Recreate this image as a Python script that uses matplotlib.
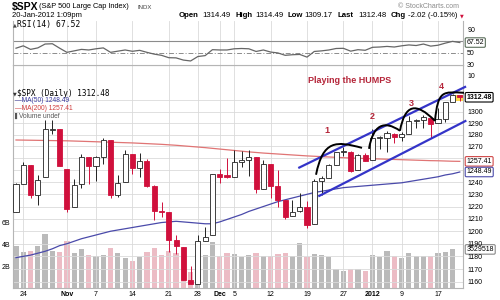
import numpy as np
import matplotlib
matplotlib.use('Agg')
import matplotlib.pyplot as plt
from matplotlib.path import Path
from matplotlib.patches import PathPatch
from matplotlib.ticker import FixedLocator, NullLocator, FuncFormatter

plt.rcParams['font.family'] = ['Liberation Sans', 'DejaVu Sans']

# $SPX daily bars, 21-Oct-2011 .. 20-Jan-2012
opens = [1215.39, 1238.72, 1254.19, 1229.17, 1243.97, 1284.39, 1284.96, 1251.00, 1219.62, 1238.25,
         1260.82, 1253.21, 1261.12, 1275.18, 1229.59, 1240.12, 1263.85, 1251.70, 1257.81, 1236.56,
         1216.19, 1215.62, 1192.98, 1187.48, 1161.41, 1158.67, 1192.56, 1196.72, 1246.91, 1246.03,
         1244.33, 1257.19, 1258.14, 1260.87, 1234.48, 1255.05, 1236.83, 1225.73, 1212.12, 1216.09,
         1219.74, 1205.72, 1241.25, 1243.72, 1254.00, 1265.02, 1265.38, 1249.75, 1262.82, 1258.86,
         1277.03, 1277.30, 1280.93, 1277.83, 1280.77, 1292.02, 1292.48, 1294.82, 1290.22, 1293.65,
         1308.07, 1314.49]
highs = [1239.03, 1256.55, 1254.19, 1246.28, 1292.66, 1293.09, 1284.96, 1251.00, 1242.48, 1263.21,
         1260.82, 1261.70, 1277.55, 1275.18, 1246.22, 1266.98, 1263.85, 1264.25, 1259.61, 1237.73,
         1223.51, 1215.62, 1196.81, 1187.48, 1172.66, 1197.35, 1203.67, 1247.11, 1251.09, 1260.08,
         1266.73, 1266.03, 1267.06, 1260.87, 1258.25, 1255.05, 1249.86, 1225.73, 1225.60, 1231.04,
         1224.57, 1242.82, 1245.09, 1255.22, 1265.42, 1269.37, 1265.85, 1263.54, 1264.12, 1284.62,
         1278.73, 1283.05, 1281.84, 1281.99, 1296.46, 1293.80, 1296.82, 1294.82, 1303.00, 1308.11,
         1315.49, 1314.49]
lows = [1215.39, 1238.72, 1226.79, 1221.06, 1243.97, 1280.35, 1253.16, 1215.42, 1219.62, 1234.81,
        1238.92, 1240.75, 1254.99, 1226.64, 1227.70, 1240.12, 1246.68, 1244.34, 1235.67, 1209.43,
        1211.36, 1183.16, 1181.65, 1161.79, 1158.66, 1158.67, 1191.80, 1196.72, 1239.73, 1243.35,
        1244.33, 1253.03, 1244.80, 1231.47, 1234.48, 1227.25, 1219.43, 1209.47, 1212.12, 1215.20,
        1202.37, 1205.72, 1229.51, 1243.72, 1254.00, 1262.30, 1248.64, 1249.75, 1257.46, 1258.86,
        1268.10, 1265.26, 1273.34, 1274.55, 1280.77, 1285.41, 1285.77, 1277.58, 1290.22, 1290.99,
        1308.07, 1309.17]
closes = [1238.25, 1254.19, 1229.05, 1242.00, 1284.59, 1285.09, 1253.30, 1218.28, 1237.90, 1261.15,
          1253.23, 1261.12, 1275.92, 1229.10, 1239.70, 1263.85, 1251.78, 1257.81, 1236.91, 1216.13,
          1215.65, 1192.98, 1188.04, 1161.79, 1158.67, 1192.55, 1195.19, 1246.96, 1244.58, 1244.28,
          1257.08, 1258.47, 1261.01, 1234.35, 1255.19, 1236.47, 1225.73, 1211.82, 1215.75, 1219.66,
          1205.35, 1241.30, 1243.72, 1254.00, 1265.33, 1265.43, 1249.64, 1263.02, 1257.60, 1277.06,
          1277.30, 1281.06, 1277.81, 1280.70, 1292.08, 1292.48, 1295.50, 1289.09, 1293.67, 1308.04,
          1314.50, 1312.48]
prev_close = 1215.39  # 20-Oct close, colours the first bar

# volume in billions (last, partial day not drawn)
volume = [3.8, 3.3, 3.4, 3.8, 4.9, 3.4, 3.3, 4.3, 3.2, 3.6,
          3.0, 2.9, 3.0, 3.7, 3.2, 2.7, 2.5, 2.8, 3.3, 3.7,
          3.0, 3.4, 3.2, 2.8, 1.5, 3.0, 3.0, 4.2, 2.9, 3.2,
          3.1, 2.8, 3.0, 3.2, 2.9, 2.9, 3.1, 3.2, 2.9, 4.1,
          2.8, 3.1, 3.0, 2.8, 1.7, 1.6, 1.7, 1.7, 1.6, 3.0,
          2.8, 3.4, 2.9, 2.7, 3.2, 2.9, 2.95, 2.9, 3.2, 3.3,
          3.53, 0.0]

ma50 = [1179.0, 1180.0, 1181.0, 1182.5, 1184.0, 1186.0, 1188.5, 1190.0, 1192.0, 1194.0,
        1195.5, 1197.0, 1198.5, 1200.0, 1201.0, 1202.0, 1203.0, 1204.0, 1205.0, 1206.0,
        1207.0, 1207.5, 1208.0, 1207.5, 1207.0, 1206.5, 1206.0, 1206.0, 1207.5, 1209.5,
        1211.5, 1213.5, 1216.0, 1218.0, 1220.0, 1222.0, 1224.0, 1225.5, 1227.0, 1228.5,
        1230.0, 1231.5, 1232.5, 1233.5, 1234.5, 1235.5, 1236.0, 1236.5, 1237.0, 1237.5,
        1238.0, 1238.5, 1239.0, 1239.5, 1240.5, 1241.5, 1242.5, 1243.5, 1244.5, 1246.0,
        1247.0, 1248.49]
ma200 = [1275.5, 1275.4, 1275.3, 1275.2, 1275.1, 1275.0, 1274.9, 1274.8, 1274.6, 1274.4,
         1274.2, 1274.0, 1273.8, 1273.6, 1273.4, 1273.2, 1273.0, 1272.7, 1272.4, 1272.1,
         1271.8, 1271.4, 1271.0, 1270.5, 1270.0, 1269.5, 1269.0, 1268.4, 1267.8, 1267.2,
         1266.6, 1266.0, 1265.4, 1264.9, 1264.4, 1264.0, 1263.6, 1263.2, 1262.8, 1262.4,
         1262.0, 1261.7, 1261.4, 1261.1, 1260.8, 1260.5, 1260.2, 1260.0, 1259.8, 1259.6,
         1259.4, 1259.2, 1259.0, 1258.8, 1258.6, 1258.4, 1258.2, 1258.0, 1257.9, 1257.7,
         1257.5, 1257.41]
rsi = [58, 62, 56, 58.5, 65, 65.5, 58, 51, 53.5, 56,
       55, 57, 58.5, 51, 53, 55, 52.8, 54.4, 51, 48,
       46, 42, 41.7, 38, 36.5, 44, 45.5, 55.5, 55, 55,
       57, 57.5, 57, 52.5, 55, 51.5, 50, 46, 47, 47.5,
       43, 52.5, 53.5, 55, 57.5, 57.8, 53, 55.5, 54.5, 59.5,
       60, 61, 60, 62, 63.5, 62.5, 65, 61.5, 63, 66.5,
       69.5, 67.52]

tick_pos = [1, 7, 11, 16, 21, 25, 28, 30, 35, 40, 45, 49, 53, 58]
tick_lbl = ['24', 'Nov', '7', '14', '21', '28', 'Dec', '5', '12', '19', '27', '2012', '9', '17']
price_ticks = [1160, 1170, 1180, 1190, 1200, 1210, 1220, 1230, 1240, 1250, 1260, 1270, 1280, 1290, 1300, 1310]
hidden_ticks = [1250, 1310]  # covered by the value tags in the original

# hand drawn annotations: (day index, price)
upper_channel = ([38.8, 61.86], [1251.8, 1322.0])
lower_channel = ([41.55, 61.9], [1228.3, 1292.2])
humps = [
    [(41.24, 1246.2), (42.2, 1275.6), (43.99, 1274.7), (47.56, 1268.8)],
    [(48.52, 1268.0), (49.07, 1288.5), (50.58, 1292.8), (52.78, 1283.4)],
    [(52.78, 1283.4), (53.47, 1306.7), (54.98, 1308.5), (57.59, 1291.9)],
    [(57.59, 1291.9), (58.0, 1319.0), (58.69, 1317.3), (61.58, 1316.4)],
]
hump_nums = [('1', 42.7, 1283.4), ('2', 48.9, 1295.7), ('3', 54.3, 1307.3), ('4', 58.4, 1321.9)]

RED = '#d0103c'
ANN = '#b5263a'
GRID = '#dadada'
SPINE = '#b5b5b5'

n = len(closes)
days = np.arange(n)
prev = [prev_close] + closes[:-1]
down = [c < p for c, p in zip(closes, prev)]

fig = plt.figure(figsize=(5, 3), dpi=100)
L, W = 12.5 / 500, 450.5 / 500
ax_v = fig.add_axes([L, 12 / 300, W, 223 / 300])
ax = fig.add_axes([L, 12 / 300, W, 223 / 300])
ax_r = fig.add_axes([L, 235 / 300, W, 44 / 300])
xlim = (-0.48, 61.44)

# volume underneath
vcol = ['#ecbcc5' if d else '#bababa' for d in down]
ax_v.bar(days, volume, width=0.72, color=vcol, zorder=1)
ax_v.set_xlim(xlim)
ax_v.set_ylim(0, 20.4)
ax_v.set_xticks([])
ax_v.set_yticks([2, 4, 6])
ax_v.set_yticklabels(['2B', '4B', '6B'])
ax_v.tick_params(axis='y', length=0, pad=1.5, labelsize=5)
for s in ax_v.spines.values():
    s.set_visible(False)

# price panel
ax.patch.set_visible(False)
ax.set_yscale('log')
ax.set_xlim(xlim)
ax.set_ylim(1155.3, 1341.1)
ax.yaxis.tick_right()
ax.yaxis.set_major_locator(FixedLocator(price_ticks))
ax.yaxis.set_minor_locator(NullLocator())
ax.yaxis.set_major_formatter(FuncFormatter(
    lambda v, p: '' if round(v) in hidden_ticks else '%d' % round(v)))
ax.tick_params(axis='y', length=0, pad=3, labelsize=5)
ax.set_xticks(tick_pos)
ax.set_xticklabels(tick_lbl)
ax.tick_params(axis='x', length=0, pad=2, labelsize=5)
for t in ax.get_xticklabels():
    if t.get_text() in ('Nov', 'Dec', '2012'):
        t.set_fontweight('bold')
ax.grid(True, color=GRID, lw=0.6, zorder=0)
for s in ax.spines.values():
    s.set_color(SPINE)
    s.set_linewidth(0.8)

ax.plot(days, ma200, color='#e07474', lw=0.9, zorder=2)
ax.plot(days, ma50, color='#4a4aaa', lw=0.9, zorder=2)

# last bar glow
ax.bar(days[-1], highs[-1] - lows[-1], bottom=lows[-1], width=1.0, color='#ffd84a', zorder=2.5)

for i in days:
    o, h, l, c = opens[i], highs[i], lows[i], closes[i]
    col = RED if down[i] else '#222222'
    ax.vlines(i, l, h, color=col, lw=0.7, zorder=3)
    lo, hi = min(o, c), max(o, c)
    if hi - lo < 0.8:
        hi = lo + 0.8
    ax.bar(i, hi - lo, bottom=lo, width=0.7, facecolor=col if c < o else 'white',
           edgecolor=col, lw=0.6, zorder=4)

ax.plot(*upper_channel, color='#3434c8', lw=1.6, zorder=5, clip_on=False, solid_capstyle='butt')
ax.plot(*lower_channel, color='#3434c8', lw=1.6, zorder=5, clip_on=False, solid_capstyle='butt')
for pts in humps:
    path = Path(pts, [Path.MOVETO, Path.CURVE4, Path.CURVE4, Path.CURVE4])
    ax.add_patch(PathPatch(path, fc='none', ec='black', lw=1.4, zorder=6, clip_on=False))
for s, x, y in hump_nums:
    ax.text(x, y, s, color=ANN, fontsize=6.5, fontweight='bold', ha='center', va='center', zorder=7)
ax.text(45.8, 1327.0, 'Playing the HUMPS', color=ANN, fontsize=6.5, fontweight='bold',
        ha='center', va='center', zorder=7)


def tag(axis, value, text, ec, weight='normal'):
    axis.annotate(text, xy=(1, value), xycoords=axis.get_yaxis_transform(), xytext=(2.5, 0),
                  textcoords='offset points', ha='left', va='center', fontsize=5, fontweight=weight,
                  bbox=dict(boxstyle='round,pad=0.18', fc='white', ec=ec, lw=0.8),
                  annotation_clip=False, zorder=10)


tag(ax, closes[-1], '%.2f' % closes[-1], 'black', 'bold')
tag(ax, ma200[-1], '%.2f' % ma200[-1], '#d04848')
tag(ax, ma50[-1], '%.2f' % ma50[-1], '#4a4aaa')
tag(ax_v, volume[-2], '3529518', '#888888')

# RSI panel
ax_r.set_xlim(xlim)
ax_r.set_ylim(29.7, 103.8)
ax_r.plot(days, rsi, color='#666666', lw=0.9, zorder=3)
ax_r.axhline(70, color='#8c8c8c', lw=0.8, zorder=2)
ax_r.axhline(50, color='#8c8c8c', lw=0.7, ls=(0, (5, 2, 1, 2)), zorder=2)
ax_r.yaxis.tick_right()
ax_r.set_yticks([30, 50, 90])
ax_r.tick_params(axis='y', length=0, pad=3, labelsize=5)
ax_r.set_xticks(tick_pos)
ax_r.tick_params(axis='x', length=0, labelbottom=False)
ax_r.grid(axis='x', color=GRID, lw=0.6)
for s in ax_r.spines.values():
    s.set_color(SPINE)
    s.set_linewidth(0.8)
ax_r.spines['top'].set_visible(False)
ax_r.annotate('10', xy=(1, 10), xycoords=ax_r.get_yaxis_transform(), xytext=(3, 0),
              textcoords='offset points', va='center', fontsize=5, annotation_clip=False)
tag(ax_r, rsi[-1], '%.2f' % rsi[-1], '#5a6e5a')


# header and legends, placed in pixels
def ftext(x, y, s, **kw):
    kw.setdefault('va', 'center')
    kw.setdefault('fontsize', 5.5)
    fig.text(x / 500, 1 - y / 300, s, **kw)


ftext(12, 7, r'\$SPX', fontsize=7.5, fontweight='bold')
ftext(39, 7, '(S&P 500 Large Cap Index)', fontsize=5.3)
ftext(138, 7.5, 'INDX', fontsize=4.3, color='#444444')
ftext(398, 6, '\u00a9 StockCharts.com', fontsize=5, color='#8a8a8a')
ftext(12, 15.5, '20-Jan-2012 1:09pm')
for s, x, bold in [('Open', 179, True), ('1314.49', 202, False), ('High', 235, True),
                   ('1314.49', 255, False), ('Low', 287, True), ('1309.17', 304, False),
                   ('Last', 338, True), ('1312.48', 358, False), ('Chg', 391, True),
                   ('-2.02 (-0.15%)', 408, False)]:
    ftext(x, 15.5, s, fontweight='bold' if bold else 'normal', fontsize=5.6)
ftext(460, 15.5, '\u25bc', color=RED, fontsize=3.5, family='DejaVu Sans')

ftext(13, 24.5, '\u25b2', fontsize=3.5, color='#444444', family='DejaVu Sans')
ftext(17, 24.5, 'RSI(14) 67.52', fontsize=5.8, family='DejaVu Sans Mono')
ftext(13, 93.5, '\u25bc', fontsize=3.5, color='#333333', family='DejaVu Sans')
ftext(17, 93.5, r'\$SPX (Daily) 1312.48', fontsize=5.6, family='DejaVu Sans Mono')
ftext(15, 101, '\u2014MA(50) 1248.49', fontsize=4.8, color='#3a3aa0')
ftext(15, 108.5, '\u2014MA(200) 1257.41', fontsize=4.8, color='#d03c3c')
ftext(14, 116, '\u258c', fontsize=4, color='#555555', family='DejaVu Sans')
ftext(19, 116, 'Volume undef', fontsize=4.8, color='#555555')

fig.savefig('out.png', dpi=100)
